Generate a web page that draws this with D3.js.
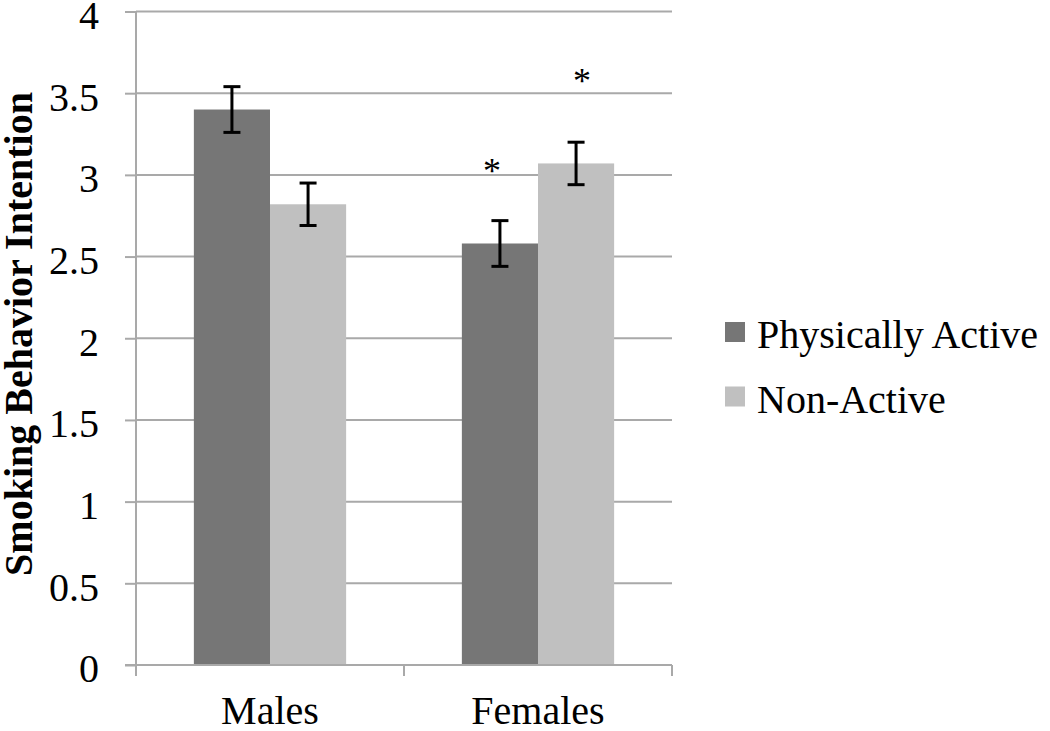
<!DOCTYPE html>
<html><head><meta charset="utf-8">
<script src="https://cdn.jsdelivr.net/npm/d3@7"></script>
<style>body{margin:0;background:#fff}svg{display:block}</style>
</head><body><svg id="c" width="1050" height="731"></svg>
<script>
const categories = ["Males", "Females"];
const seriesNames = ["Physically Active", "Non-Active"];
const physicallyActive = [3.40, 2.58];
const nonActive = [2.82, 3.07];
const paError = [0.14, 0.14];
const naError = [0.13, 0.13];
const significant = [[false, false], [true, true]];
const starLevel = [[null, null], [3.06, 3.61]];
const yTicks = [0, 0.5, 1, 1.5, 2, 2.5, 3, 3.5, 4];

(function () {
const colors = ["#767676", "#c0c0c0"];
const starNudge = [-8, 6];
const svg = d3.select("#c");
const pLeft = 136, pRight = 672, pTop = 11.5, pBottom = 665;
const x0 = d3.scaleBand().domain(categories).range([pLeft, pRight]).paddingInner(0).paddingOuter(0);
const x1 = d3.scaleBand().domain(seriesNames).range([0, x0.bandwidth()]).paddingOuter(0.76).paddingInner(0);
const y = d3.scaleLinear().domain([0, 4]).range([pBottom, pTop]);
const serif = "'Liberation Serif', 'Times New Roman', serif";
const gridColor = "#a9a9a9";

svg.append("g").selectAll("line").data(yTicks.filter(d => d > 0)).join("line")
  .attr("x1", pLeft).attr("x2", pRight).attr("y1", d => y(d)).attr("y2", d => y(d))
  .attr("stroke", gridColor).attr("stroke-width", 2);

const data = categories.map((c, i) => ({c, vals: [physicallyActive[i], nonActive[i]], errs: [paError[i], naError[i]]}));
const g = svg.append("g").selectAll("g").data(data).join("g").attr("transform", d => `translate(${x0(d.c)},0)`);
g.selectAll("rect").data(d => d.vals.map((v, j) => ({v, j}))).join("rect")
  .attr("x", d => x1(seriesNames[d.j])).attr("width", x1.bandwidth())
  .attr("y", d => y(d.v)).attr("height", d => y(0) - y(d.v)).attr("fill", d => colors[d.j]);

const eb = g.selectAll("g.eb").data(d => d.vals.map((v, j) => ({v, e: d.errs[j], j}))).join("g").attr("class", "eb");
const cx = d => x1(seriesNames[d.j]) + x1.bandwidth() / 2;
eb.append("line").attr("x1", cx).attr("x2", cx)
  .attr("y1", d => y(d.v + d.e)).attr("y2", d => y(d.v - d.e)).attr("stroke", "#000").attr("stroke-width", 3);
[1, -1].forEach(s => {
  eb.append("line").attr("x1", d => cx(d) - 8.5).attr("x2", d => cx(d) + 8.5)
    .attr("y1", d => y(d.v + s * d.e)).attr("y2", d => y(d.v + s * d.e)).attr("stroke", "#000").attr("stroke-width", 3);
});

categories.forEach((c, i) => {
  seriesNames.forEach((s, j) => {
    if (significant[i][j]) {
      svg.append("text").attr("x", x0(c) + x1(s) + x1.bandwidth() / 2 + starNudge[j]).attr("y", y(starLevel[i][j]) + 18)
        .attr("text-anchor", "middle").attr("font-family", serif).attr("font-size", 36).text("*");
    }
  });
});

const yAxis = svg.append("g").attr("transform", `translate(${pLeft},0)`)
  .call(d3.axisLeft(y).tickValues(yTicks).tickSize(11).tickPadding(26).tickFormat(d => String(d)));
yAxis.select(".domain").attr("stroke", gridColor).attr("stroke-width", 2).attr("d", `M0,${pTop}V${pBottom}`);
yAxis.selectAll(".tick line").attr("stroke", gridColor).attr("stroke-width", 2);
yAxis.selectAll("text").attr("font-family", serif).attr("font-size", 40).attr("fill", "#000").attr("dy", "0.42em");

const xTickPos = [pLeft, (pLeft + pRight) / 2, pRight];
svg.append("line").attr("x1", pLeft - 11).attr("x2", pRight).attr("y1", pBottom).attr("y2", pBottom).attr("stroke", gridColor).attr("stroke-width", 2);
svg.append("g").selectAll("line").data(xTickPos).join("line")
  .attr("x1", d => d).attr("x2", d => d).attr("y1", pBottom).attr("y2", pBottom + 11).attr("stroke", gridColor).attr("stroke-width", 2);
svg.append("g").selectAll("text").data(categories).join("text")
  .attr("x", d => x0(d) + x0.bandwidth() / 2).attr("y", 724).attr("text-anchor", "middle")
  .attr("font-family", serif).attr("font-size", 40).text(d => d);

svg.append("text").attr("transform", `translate(32,334) rotate(-90)`).attr("text-anchor", "middle")
  .attr("font-family", serif).attr("font-weight", "bold").attr("font-size", 40).text("Smoking Behavior Intention");

const lg = svg.append("g").selectAll("g").data(seriesNames).join("g").attr("transform", (d, i) => `translate(725,${322 + i * 64.5})`);
lg.append("rect").attr("width", 20).attr("height", 20).attr("fill", (d, i) => colors[i]);
lg.append("text").attr("x", 32).attr("y", 26).attr("font-family", serif).attr("font-size", 40).text(d => d);
})();
</script></body></html>
